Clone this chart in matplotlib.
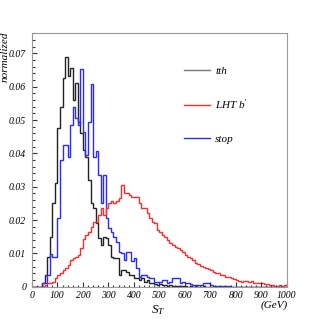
import numpy as np
import matplotlib
matplotlib.use("Agg")
import matplotlib.pyplot as plt
from matplotlib.lines import Line2D
from matplotlib.ticker import MultipleLocator, FuncFormatter

# bins of S_T, 10 GeV wide
bin_edges = np.arange(0, 1010, 10)

# tth (black)
tth = [0, 0, 0, 0, 0.001, 0.0035, 0.009, 0.015, 0.025, 0.031,
       0.0475, 0.054, 0.0625, 0.069, 0.0632, 0.0655, 0.056, 0.061, 0.0495, 0.046,
       0.041, 0.039, 0.032, 0.025, 0.0235, 0.019, 0.0146, 0.0125, 0.015, 0.0145,
       0.0125, 0.009, 0.0085, 0.0085, 0.0035, 0.005, 0.005, 0.0045, 0.0035, 0.0035,
       0.0026, 0.0026, 0.002, 0.0025, 0.0015, 0.002, 0.001, 0.0012, 0.0008, 0.0006,
       0.0008, 0.0004, 0.0005, 0.0002, 0.0004, 0.0002, 0.0001, 0.0003, 0.0001, 0.0002,
       0.0001, 0, 0.0002, 0, 0.0001, 0, 0, 0.0001, 0, 0,
       0, 0, 0, 0, 0, 0, 0, 0, 0, 0,
       0, 0, 0, 0, 0, 0, 0, 0, 0, 0,
       0, 0, 0, 0, 0, 0, 0, 0, 0, 0]

# LHT b' (red)
lht = [0, 0, 0, 0, 0.0003, 0.0006, 0.001, 0.0012, 0.0015, 0.0025,
       0.0035, 0.004, 0.005, 0.0055, 0.0065, 0.008, 0.0085, 0.009, 0.0095, 0.0115,
       0.0143, 0.0155, 0.0165, 0.018, 0.0195, 0.0195, 0.0215, 0.0235, 0.0215, 0.0235,
       0.025, 0.0258, 0.025, 0.0258, 0.0265, 0.0305, 0.028, 0.028, 0.0275, 0.027,
       0.0268, 0.027, 0.025, 0.0235, 0.0235, 0.022, 0.0206, 0.0195, 0.019, 0.017,
       0.0165, 0.0155, 0.015, 0.014, 0.013, 0.0125, 0.012, 0.0115, 0.011, 0.0105,
       0.0095, 0.009, 0.0085, 0.008, 0.0072, 0.0068, 0.0063, 0.006, 0.0055, 0.0054,
       0.005, 0.0045, 0.0042, 0.004, 0.0036, 0.0034, 0.003, 0.0028, 0.0025, 0.0022,
       0.002, 0.0018, 0.0015, 0.0016, 0.0018, 0.0014, 0.0016, 0.0012, 0.001, 0.0012,
       0.001, 0.0008, 0.0008, 0.0006, 0.0005, 0.0003, 0.0003, 0.0004, 0.0003, 0.0005]

# stop (blue)
stop = [0, 0, 0, 0, 0.001, 0.001, 0.0035, 0.0098, 0.009, 0.009,
        0.0206, 0.038, 0.0425, 0.0425, 0.039, 0.0485, 0.0538, 0.0505, 0.0485, 0.0652,
        0.0465, 0.0395, 0.0495, 0.0607, 0.039, 0.0408, 0.0335, 0.025, 0.0335, 0.0206,
        0.0176, 0.0165, 0.015, 0.0135, 0.0105, 0.010, 0.008, 0.0105, 0.0105, 0.0078,
        0.0085, 0.0055, 0.003, 0.0035, 0.0035, 0.003, 0.0026, 0.0026, 0.0015, 0.0015,
        0.0015, 0.002, 0.002, 0.0012, 0.0015, 0.0025, 0.0025, 0.0025, 0.001, 0.0015,
        0.001, 0.001, 0.0008, 0.0005, 0.0005, 0.0005, 0.0005, 0.001, 0.001, 0.001,
        0.0005, 0.0003, 0.0003, 0.0002, 0.0002, 0.0002, 0.0001, 0.0001, 0, 0,
        0, 0, 0, 0, 0, 0, 0, 0, 0, 0,
        0, 0, 0, 0, 0, 0, 0, 0, 0, 0]

labels = ["tth", "LHT b$^{\\prime}$", "stop"]
colors = ["#222222", "#ff2a2a", "#2a2aff"]

plt.rcParams['font.family'] = ['Liberation Serif', 'DejaVu Serif']
plt.rcParams['mathtext.fontset'] = 'custom'
plt.rcParams['mathtext.it'] = 'Liberation Serif:italic'
plt.rcParams['mathtext.rm'] = 'Liberation Serif:italic'

fig = plt.figure(figsize=(3.19, 3.19), dpi=100)
ax = fig.add_axes([0.1003, 0.1012, 0.798, 0.796])

ax.stairs(tth, bin_edges, color=colors[0], lw=1.0)
ax.stairs(stop, bin_edges, color=colors[2], lw=1.0)
ax.stairs(lht, bin_edges, color=colors[1], lw=1.0)

ax.set_xlim(0, 1000)
ax.set_ylim(0, 0.0762)

ax.xaxis.set_major_locator(MultipleLocator(100))
ax.xaxis.set_minor_locator(MultipleLocator(20))
ax.yaxis.set_major_locator(MultipleLocator(0.01))
ax.yaxis.set_minor_locator(MultipleLocator(0.002))
ax.yaxis.set_major_formatter(FuncFormatter(lambda v, p: "0" if abs(v) < 1e-9 else f"{v:.2f}"))

ax.tick_params(which='both', direction='in', top=False, right=False,
               labelsize=7, color='#333333', width=0.8)
ax.tick_params(which='major', length=3.5)
ax.tick_params(which='minor', length=1.8)
ax.tick_params(axis='y', pad=4.3)
ax.tick_params(axis='x', pad=3)
for lab in ax.get_xticklabels() + ax.get_yticklabels():
    lab.set_fontstyle('italic')

for s in ax.spines.values():
    s.set_color('#999999')
    s.set_linewidth(0.8)

fig.text(0.003, 0.9, "normalized", rotation=90, ha='left', va='top',
         fontsize=8, fontstyle='italic')
fig.text(0.497, 0.028, "$S_T$", ha='center', va='center', fontsize=9.5)
fig.text(0.903, 0.044, "(GeV)", ha='right', va='center', fontsize=8, fontstyle='italic')

handles = [Line2D([], [], color=c, lw=1.0) for c in ["#777777", colors[1], colors[2]]]
leg = ax.legend(handles, labels, loc='upper left', bbox_to_anchor=(0.58, 0.886),
                frameon=False, fontsize=8, handlelength=2.3, handletextpad=0.5,
                labelspacing=1.95, borderaxespad=0)
for t in leg.get_texts():
    t.set_fontstyle('italic')

fig.savefig("out.png", dpi=100)
